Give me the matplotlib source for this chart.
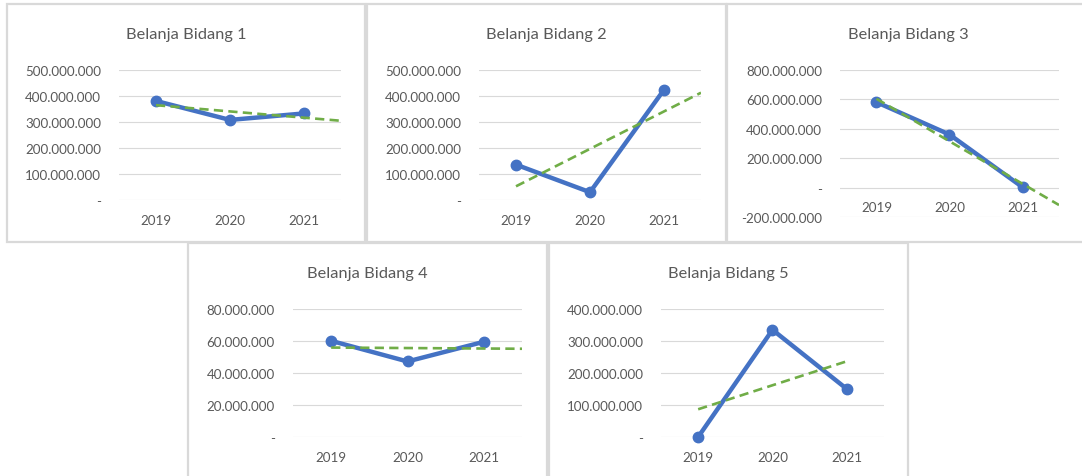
import numpy as np
import matplotlib.pyplot as plt
from matplotlib.patches import Rectangle
from matplotlib.ticker import FuncFormatter, MultipleLocator

years = ['2019', '2020', '2021']
titles = ['Belanja Bidang 1', 'Belanja Bidang 2', 'Belanja Bidang 3',
          'Belanja Bidang 4', 'Belanja Bidang 5']

bidang_1 = [381e6, 308e6, 333e6]
bidang_2 = [136e6, 30e6, 424e6]
bidang_3 = [581e6, 361e6, 3e6]
bidang_4 = [60.1e6, 47.2e6, 59.5e6]
bidang_5 = [0, 335e6, 150e6]
series = [bidang_1, bidang_2, bidang_3, bidang_4, bidang_5]

# y-axis (min, max, step) per chart
y_axes = [(0, 500e6, 100e6), (0, 500e6, 100e6), (-200e6, 800e6, 200e6),
          (0, 80e6, 20e6), (0, 400e6, 100e6)]
# how far the trendline is projected past the last year
forecast = [0.5, 0.5, 0.5, 0.5, 0.0]

W, H = 1082, 477
BLUE = '#4472C4'
GREEN = '#70AD47'
GRID = '#D9D9D9'
TEXT = '#595959'
FONT = 'Lato'

# pixel boxes: chart frame (x0, y0, x1, y1) and plot area inside it
frames = [(7, 5, 365, 243), (367, 5, 726, 243), (727, 5, 1090, 243),
          (188, 244, 547, 490), (549, 244, 908, 490)]
plots = [(119, 71, 341, 201), (479, 71, 701, 201), (840, 71, 1059, 218),
         (293, 310, 522, 438), (661, 310, 884, 438)]


def rupiah(v, pos):
    if abs(v) < 0.5:
        return '-'
    s = f'{abs(v):,.0f}'.replace(',', '.')
    return ('-' if v < 0 else '') + s


fig = plt.figure(figsize=(W / 100, H / 100), dpi=100)
fig.patch.set_facecolor('white')

for i in range(5):
    fx0, fy0, fx1, fy1 = frames[i]
    fig.patches.append(Rectangle((fx0 / W, 1 - fy1 / H), (fx1 - fx0) / W, (fy1 - fy0) / H,
                                 transform=fig.transFigure, fill=False,
                                 edgecolor=GRID, linewidth=1.6, zorder=0))
    fig.text((fx0 + fx1) / 2 / W, 1 - (fy0 + 30) / H, titles[i], ha='center', va='center',
             fontsize=11.8, color=TEXT, family=FONT)

    x0, y0, x1, y1 = plots[i]
    ax = fig.add_axes([x0 / W, 1 - y1 / H, (x1 - x0) / W, (y1 - y0) / H])
    ax.patch.set_alpha(0)

    vals = np.array(series[i])
    x = np.arange(len(years))
    ax.plot(x, vals, color=BLUE, lw=3.2, marker='o', ms=7.5, solid_capstyle='round',
            zorder=3, clip_on=False)

    # linear trendline
    k, b = np.polyfit(x, vals, 1)
    tx = np.array([0, len(years) - 1 + forecast[i]])
    ax.plot(tx, k * tx + b, color=GREEN, lw=1.9, dashes=(3.5, 2), zorder=4)

    ymin, ymax, step = y_axes[i]
    ax.set_ylim(ymin, ymax)
    ax.set_xlim(-0.5, len(years) - 0.5)
    ax.yaxis.set_major_locator(MultipleLocator(step))
    ax.yaxis.set_major_formatter(FuncFormatter(rupiah))
    ax.grid(axis='y', color=GRID, lw=0.8)
    ax.set_axisbelow(True)

    ax.set_xticks(x)
    ax.set_xticklabels(years)
    for s in ax.spines.values():
        s.set_visible(False)
    # category labels sit under the zero line
    ax.spines['bottom'].set_position(('data', 0))
    ax.tick_params(axis='both', length=0, labelsize=9.6, labelcolor=TEXT)
    ax.tick_params(axis='y', pad=13)
    ax.tick_params(axis='x', pad=10)
    for lab in ax.get_xticklabels() + ax.get_yticklabels():
        lab.set_family(FONT)

fig.savefig('out.png', dpi=100, facecolor='white')
